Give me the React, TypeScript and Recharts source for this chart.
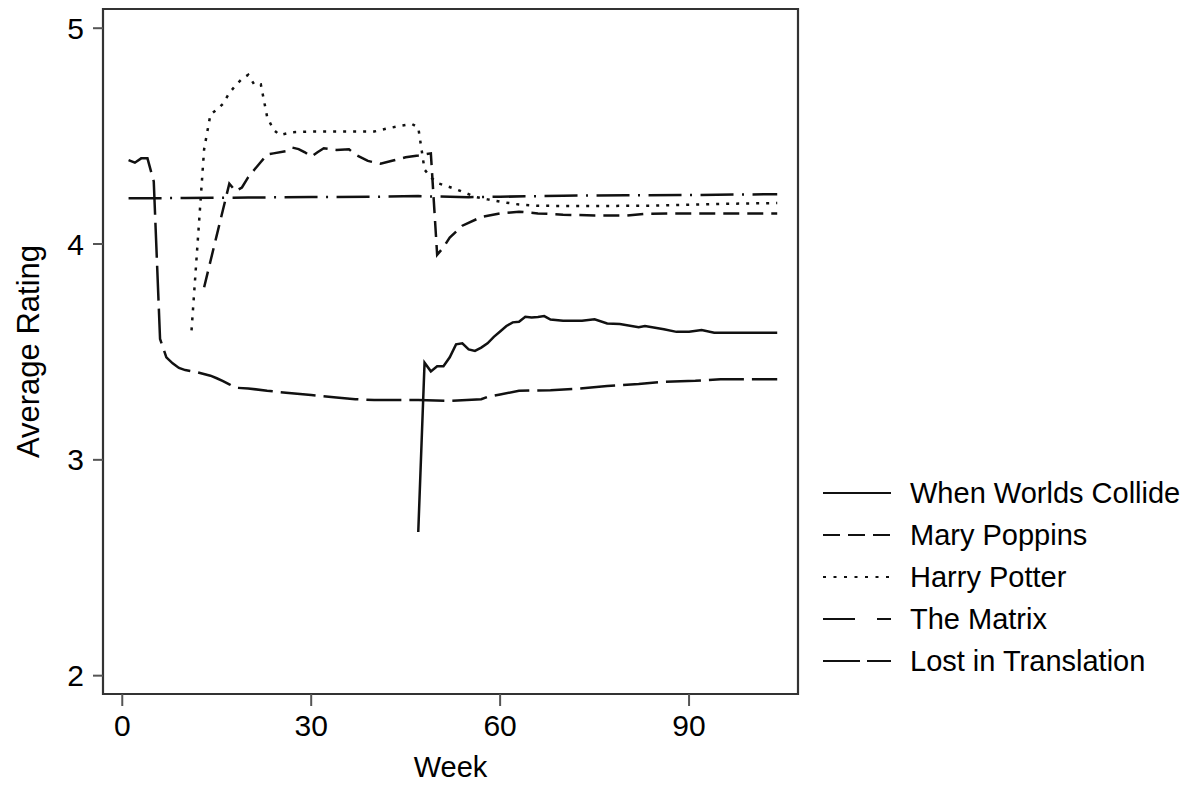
import { LineChart, Line, XAxis, YAxis, Legend, ReferenceArea } from 'recharts';

const FONT = '"Liberation Sans", Arial, Helvetica, sans-serif';

// axis ranges and ticks
const xTicks = [0, 30, 60, 90];
const yTicks = [2, 3, 4, 5];
const xRange = [-3.06, 107.3];
const yRange = [1.915, 5.089];

// When Worlds Collide
const wwcWeeks = [47, 48, 49, 50, 51, 52, 53, 54, 55, 56, 57, 58, 59, 60, 61, 62, 63, 64, 65, 66, 67, 68, 70, 73, 75, 77, 79, 82, 83, 86, 88, 90, 92, 94, 104];
const wwcValues = [2.666, 3.45, 3.41, 3.434, 3.434, 3.475, 3.535, 3.54, 3.512, 3.505, 3.52, 3.54, 3.57, 3.595, 3.62, 3.637, 3.64, 3.663, 3.66, 3.662, 3.666, 3.65, 3.644, 3.644, 3.651, 3.632, 3.629, 3.614, 3.62, 3.605, 3.593, 3.593, 3.601, 3.589, 3.589];

// Mary Poppins
const mpWeeks = [13, 14, 15, 16, 17, 18, 19, 20, 21, 22, 23, 24, 26, 27, 28, 29, 30, 31, 32, 34, 36, 37, 39, 41, 43, 45, 47, 49, 50, 51, 52, 54, 57, 60, 63, 66, 70, 75, 80, 83, 90, 104];
const mpValues = [3.8, 3.92, 4.04, 4.16, 4.28, 4.245, 4.262, 4.31, 4.345, 4.38, 4.415, 4.42, 4.43, 4.447, 4.44, 4.425, 4.405, 4.425, 4.444, 4.436, 4.439, 4.415, 4.385, 4.372, 4.387, 4.402, 4.41, 4.42, 3.95, 3.985, 4.03, 4.085, 4.125, 4.142, 4.15, 4.142, 4.136, 4.132, 4.132, 4.14, 4.142, 4.142];

// Harry Potter
const hpWeeks = [11, 12, 13, 14, 15, 16, 17, 18, 19, 20, 21, 22, 23, 24, 25, 27, 30, 40, 42, 44, 46, 47, 48, 49, 50, 53, 56, 58, 60, 63, 66, 75, 85, 95, 104];
const hpValues = [3.6, 4.02, 4.44, 4.6, 4.622, 4.65, 4.7, 4.735, 4.765, 4.784, 4.737, 4.74, 4.59, 4.53, 4.505, 4.518, 4.521, 4.521, 4.535, 4.547, 4.556, 4.54, 4.345, 4.309, 4.283, 4.254, 4.219, 4.207, 4.196, 4.183, 4.177, 4.176, 4.178, 4.186, 4.19];

// The Matrix
const mtxWeeks = [1, 10, 20, 30, 40, 47, 50, 55, 60, 70, 80, 90, 100, 104];
const mtxValues = [4.212, 4.213, 4.215, 4.218, 4.219, 4.222, 4.22, 4.217, 4.219, 4.224, 4.226, 4.227, 4.23, 4.231];

// Lost in Translation
const litWeeks = [1, 2, 3, 4, 5, 6, 7, 8, 9, 10, 12, 14, 15, 16, 17, 18, 20, 23, 26, 30, 34, 37, 40, 47, 52, 57, 58, 60, 63, 68, 72, 77, 82, 86, 91, 95, 104];
const litValues = [4.389, 4.377, 4.397, 4.397, 4.29, 3.56, 3.475, 3.447, 3.426, 3.416, 3.405, 3.39, 3.378, 3.365, 3.35, 3.334, 3.331, 3.32, 3.311, 3.3, 3.289, 3.281, 3.277, 3.277, 3.273, 3.281, 3.292, 3.303, 3.32, 3.323, 3.329, 3.342, 3.351, 3.362, 3.366, 3.373, 3.373];

const toRows = (weeks: number[], values: number[]) => weeks.map((w, i) => ({ week: w, rating: values[i] }));

const SERIES = [
  { name: 'When Worlds Collide', data: toRows(wwcWeeks, wwcValues), dash: undefined, legendDash: undefined },
  { name: 'Mary Poppins', data: toRows(mpWeeks, mpValues), dash: '16 8', legendDash: '17 8' },
  { name: 'Harry Potter', data: toRows(hpWeeks, hpValues), dash: '3 7', legendDash: '3 7.5' },
  { name: 'The Matrix', data: toRows(mtxWeeks, mtxValues), dash: '33 8.5 2 8.5', legendDash: '32 22 14 60' },
  { name: 'Lost in Translation', data: toRows(litWeeks, litValues), dash: '35 8', legendDash: '37 7' },
];

function LegendBox() {
  return (
    <div style={{ fontFamily: FONT, fontSize: 29, color: '#000' }}>
      {SERIES.map((s) => (
        <div key={s.name} style={{ display: 'flex', alignItems: 'center', height: 42 }}>
          <svg width={71} height={42} style={{ flex: 'none' }}>
            <line x1={3} x2={71} y1={21} y2={21} stroke="#111" strokeWidth={2.2} strokeDasharray={s.legendDash} />
          </svg>
          <span style={{ marginLeft: 19, whiteSpace: 'nowrap' }}>{s.name}</span>
        </div>
      ))}
    </div>
  );
}

export default function App() {
  const tickStyle = { fill: '#000', fontSize: 30, fontFamily: FONT };
  return (
    <div style={{ width: 1189, height: 788, background: '#fff' }}>
      <style>{'body{margin:0}'}</style>
      <LineChart width={1189} height={788} margin={{ top: 9, right: 391, bottom: 0, left: 0 }}>
        <XAxis
          type="number"
          dataKey="week"
          domain={xRange}
          ticks={xTicks}
          allowDataOverflow
          axisLine={false}
          tickLine={{ stroke: '#555', strokeWidth: 2 }}
          tickSize={12}
          tickMargin={9}
          height={94}
          tick={tickStyle}
          label={{ value: 'Week', position: 'center', dy: 26, style: { fill: '#000', fontSize: 29, fontFamily: FONT } }}
        />
        <YAxis
          type="number"
          domain={yRange}
          ticks={yTicks}
          allowDataOverflow
          axisLine={false}
          tickLine={{ stroke: '#555', strokeWidth: 2 }}
          tickSize={10}
          tickMargin={9}
          width={103}
          tick={tickStyle}
          label={{ value: 'Average Rating', angle: -90, position: 'center', dx: -24, style: { fill: '#000', fontSize: 31, fontFamily: FONT } }}
        />
        <ReferenceArea x1={xRange[0]} x2={xRange[1]} y1={yRange[0]} y2={yRange[1]} fill="none" stroke="#333" strokeWidth={2.2} ifOverflow="visible" />
        {SERIES.map((s) => (
          <Line
            key={s.name}
            data={s.data}
            dataKey="rating"
            name={s.name}
            type="linear"
            stroke="#111"
            strokeWidth={2.5}
            strokeDasharray={s.dash}
            dot={false}
            activeDot={false}
            isAnimationActive={false}
          />
        ))}
        <Legend
          layout="vertical"
          align="center"
          verticalAlign="middle"
          wrapperStyle={{ left: 820, top: 472, width: 369 }}
          content={() => <LegendBox />}
        />
      </LineChart>
    </div>
  );
}
